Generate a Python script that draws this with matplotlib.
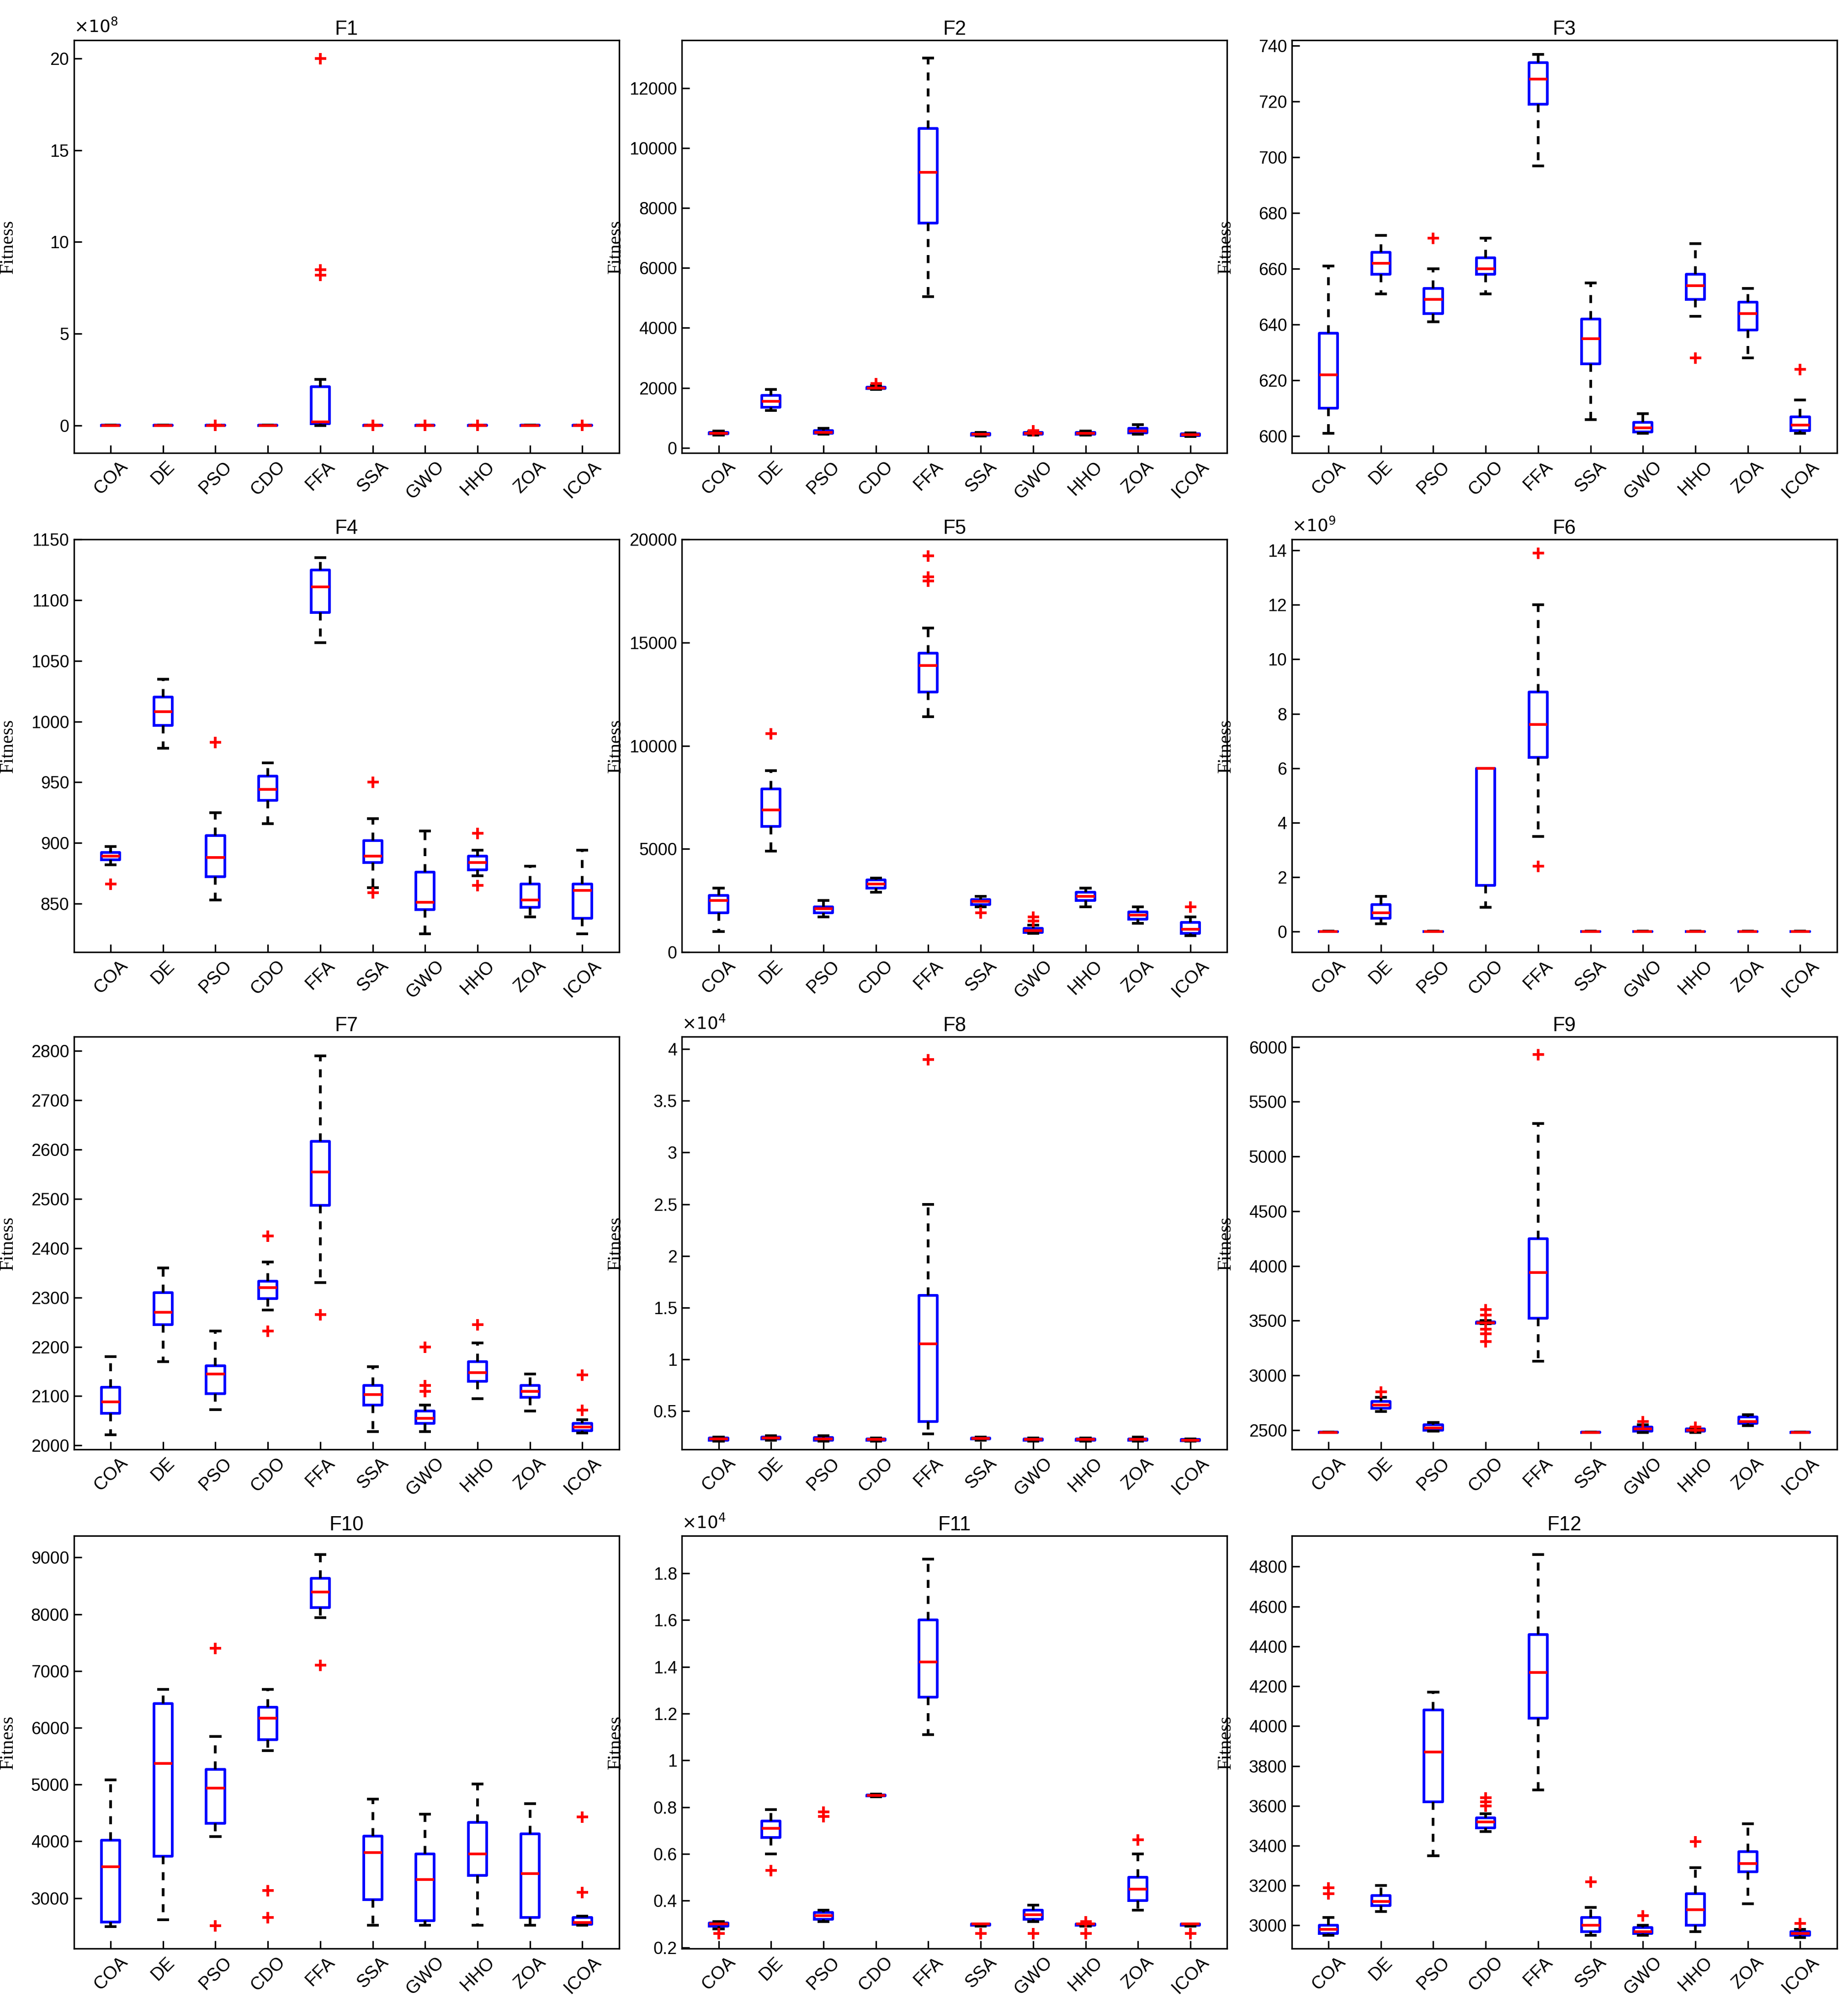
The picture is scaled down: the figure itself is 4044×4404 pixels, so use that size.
import matplotlib
matplotlib.use("Agg")
import matplotlib.pyplot as plt

algs = ["COA", "DE", "PSO", "CDO", "FFA", "SSA", "GWO", "HHO", "ZOA", "ICOA"]

# each entry: (whislo, q1, med, q3, whishi, fliers)
F1 = [(0,0,0,0.01,0.02,[]),(0,0,0,0.01,0.02,[]),(0,0,0,0.01,0.02,[0.03]),(0,0,0,0.01,0.02,[]),
      (0,0.1,0.2,2.1,2.5,[8.2,8.5,20]),(0,0,0,0.01,0.02,[0.03]),(0,0,0,0.01,0.02,[0.03]),
      (0,0,0,0.01,0.02,[0.03]),(0,0,0,0.01,0.02,[]),(0,0,0,0.01,0.02,[0.03])]
F2 = [(430,470,490,510,560,[]),(1250,1350,1550,1750,1950,[]),(450,480,520,580,650,[]),
      (1950,1980,2000,2030,2080,[2150]),(5050,7500,9200,10650,13000,[]),(400,430,460,490,520,[]),
      (420,450,480,510,550,[580]),(420,450,480,520,560,[]),(450,500,560,650,780,[]),(380,410,440,470,500,[])]
F3 = [(601,610,622,637,661,[]),(651,658,662,666,672,[]),(641,644,649,653,660,[671]),
      (651,658,660,664,671,[]),(697,719,728,734,737,[]),(606,626,635,642,655,[]),
      (601,601.5,603,605,608,[]),(643,649,654,658,669,[628]),(628,638,644,648,653,[]),
      (601,602,604,607,613,[624])]
F4 = [(882,886,889,892,897,[866]),(978,997,1008,1020,1035,[]),(853,872,888,906,925,[983]),
      (916,935,944,955,966,[]),(1065,1090,1111,1125,1135,[]),(863,884,889,902,920,[859,950]),
      (825,845,851,876,910,[]),(873,878,884,889,894,[865,908]),(839,847,853,866,881,[]),
      (825,838,861,866,894,[])]
F5 = [(1000,1900,2500,2750,3100,[]),(4900,6100,6900,7900,8800,[10600]),(1700,1900,2100,2200,2500,[]),
      (2900,3100,3300,3500,3600,[]),(11400,12600,13900,14500,15700,[18000,18200,19200]),
      (2200,2300,2450,2550,2700,[1900]),(900,950,1050,1150,1300,[1500,1700]),
      (2200,2500,2700,2900,3100,[]),(1400,1600,1800,1950,2200,[]),(800,900,1100,1450,1700,[2200])]
F6 = [(0,0,0,0.01,0.02,[]),(0.3,0.5,0.7,1.0,1.3,[]),(0,0,0,0.01,0.02,[]),(0.9,1.7,6.0,6.0,6.0,[]),
      (3.5,6.4,7.6,8.8,12.0,[2.4,13.9]),(0,0,0,0.01,0.02,[]),(0,0,0,0.01,0.02,[]),
      (0,0,0,0.01,0.02,[]),(0,0,0,0.01,0.02,[]),(0,0,0,0.01,0.02,[])]
F7 = [(2022,2065,2088,2118,2180,[]),(2170,2245,2270,2310,2360,[]),(2073,2105,2145,2162,2232,[]),
      (2275,2298,2320,2333,2372,[2232,2425]),(2330,2487,2555,2617,2790,[2265]),
      (2028,2082,2103,2122,2160,[]),(2028,2045,2055,2070,2082,[2110,2122,2200]),
      (2095,2130,2148,2170,2208,[2245]),(2070,2098,2110,2122,2145,[]),(2025,2030,2037,2045,2052,[2072,2143])]
F8 = [(0.21,0.22,0.23,0.24,0.25,[]),(0.22,0.23,0.24,0.25,0.26,[]),(0.21,0.22,0.23,0.245,0.26,[]),
      (0.21,0.22,0.225,0.23,0.24,[]),(0.28,0.4,1.15,1.62,2.5,[3.9]),(0.22,0.23,0.235,0.24,0.25,[]),
      (0.21,0.22,0.225,0.23,0.24,[]),(0.21,0.22,0.225,0.23,0.24,[]),(0.21,0.22,0.225,0.23,0.25,[]),
      (0.21,0.215,0.22,0.225,0.23,[])]
F9 = [(2478,2479,2480,2481,2482,[]),(2670,2700,2730,2760,2800,[2850]),(2490,2500,2520,2550,2570,[]),
      (3470,3475,3480,3490,3500,[3310,3380,3420,3550,3600]),(3130,3520,3940,4250,5300,[5930]),
      (2478,2479,2480,2481,2482,[]),(2480,2490,2510,2530,2550,[2580]),(2480,2490,2500,2510,2520,[2530]),
      (2540,2560,2580,2620,2640,[]),(2478,2479,2480,2481,2482,[])]
F10 = [(2500,2580,3550,4020,5080,[]),(2620,3740,5370,6430,6680,[]),(4080,4320,4940,5270,5850,[2510,7400]),
       (5600,5790,6170,6360,6680,[2660,3130]),(7940,8120,8390,8630,9050,[7100]),(2520,2970,3800,4090,4740,[]),
       (2520,2600,3330,3780,4480,[]),(2520,3400,3780,4330,5010,[]),(2520,2660,3430,4130,4660,[]),
       (2520,2540,2570,2660,2680,[3100,4430])]
F11 = [(0.28,0.29,0.30,0.305,0.31,[0.26]),(0.6,0.67,0.71,0.74,0.79,[0.53]),(0.31,0.32,0.335,0.35,0.36,[0.76,0.78]),
       (0.845,0.848,0.85,0.852,0.855,[]),(1.11,1.27,1.42,1.60,1.86,[]),(0.29,0.295,0.3,0.3,0.3,[0.26]),
       (0.31,0.32,0.34,0.36,0.38,[0.26]),(0.29,0.295,0.3,0.3,0.3,[0.26,0.31]),(0.36,0.40,0.45,0.50,0.60,[0.66]),
       (0.29,0.295,0.3,0.3,0.3,[0.26])]
F12 = [(2950,2960,2980,3000,3040,[3160,3190]),(3070,3100,3120,3150,3200,[]),(3350,3620,3870,4080,4170,[]),
       (3470,3490,3520,3540,3560,[3600,3620,3640]),(3680,4040,4270,4460,4860,[]),(2950,2970,3000,3040,3090,[3220]),
       (2950,2960,2970,2990,3000,[3050]),(2970,3000,3080,3160,3290,[3420]),(3110,3270,3310,3370,3510,[]),
       (2940,2950,2960,2970,2980,[3010])]

panels = [
    ("F1", F1, (-1.5, 21), [0, 5, 10, 15, 20], "8"),
    ("F2", F2, (-170, 13600), [0, 2000, 4000, 6000, 8000, 10000, 12000], None),
    ("F3", F3, (594, 742), list(range(600, 741, 20)), None),
    ("F4", F4, (810, 1150), list(range(850, 1151, 50)), None),
    ("F5", F5, (0, 20000), [0, 5000, 10000, 15000, 20000], None),
    ("F6", F6, (-0.75, 14.4), list(range(0, 15, 2)), "9"),
    ("F7", F7, (1992, 2829), list(range(2000, 2801, 100)), None),
    ("F8", F8, (0.13, 4.12), [0.5, 1, 1.5, 2, 2.5, 3, 3.5, 4], "4"),
    ("F9", F9, (2324, 6094), list(range(2500, 6001, 500)), None),
    ("F10", F10, (2110, 9380), list(range(3000, 9001, 1000)), None),
    ("F11", F11, (0.195, 1.96), [0.2, 0.4, 0.6, 0.8, 1, 1.2, 1.4, 1.6, 1.8], "4"),
    ("F12", F12, (2884, 4954), list(range(3000, 4801, 200)), None),
]

W, H = 4044, 4404
fig = plt.figure(figsize=(W / 300, H / 300), dpi=300)
lefts = [0.040, 0.369, 0.699]
bottoms = [0.775, 0.527, 0.280, 0.032]
aw, ah = 0.295, 0.205
tickfont = "Liberation Sans"

for i, (name, data, ylim, yt, expo) in enumerate(panels):
    r, c = divmod(i, 3)
    ax = fig.add_axes([lefts[c], bottoms[r], aw, ah])
    stats = [dict(whislo=d[0], q1=d[1], med=d[2], q3=d[3], whishi=d[4], fliers=d[5], label=a)
             for d, a in zip(data, algs)]
    ax.bxp(stats, widths=0.35, showfliers=True,
           boxprops=dict(color="blue", linewidth=1.4),
           medianprops=dict(color="red", linewidth=1.4),
           whiskerprops=dict(color="black", linewidth=1.4, linestyle=(0, (3, 3))),
           capprops=dict(color="black", linewidth=1.4),
           flierprops=dict(marker="+", markeredgecolor="red", markersize=6, markeredgewidth=1.4))
    ax.set_xlim(0.3, 10.7)
    ax.set_ylim(*ylim)
    ax.set_yticks(yt)
    ax.set_yticklabels([("%g" % v) for v in yt], fontfamily=tickfont, fontsize=9)
    ax.set_xticks(range(1, 11))
    ax.set_xticklabels(algs, rotation=45, fontfamily=tickfont, fontsize=9.5)
    ax.tick_params(direction="in", length=4, width=0.8, top=False, right=False, pad=2.5)
    ax.set_title(name, fontfamily=tickfont, fontsize=10.5, pad=3)
    ax.set_ylabel("Fitness", fontfamily="Liberation Serif", fontsize=10)
    ax.yaxis.set_label_coords(-0.105, 0.5)
    for s in ax.spines.values():
        s.set_linewidth(0.8)
    if expo:
        ax.text(0.0, 1.01, r"$\times10^{%s}$" % expo, transform=ax.transAxes,
                fontsize=9, ha="left", va="bottom", fontfamily=tickfont)

fig.savefig("out.png", dpi=300)
